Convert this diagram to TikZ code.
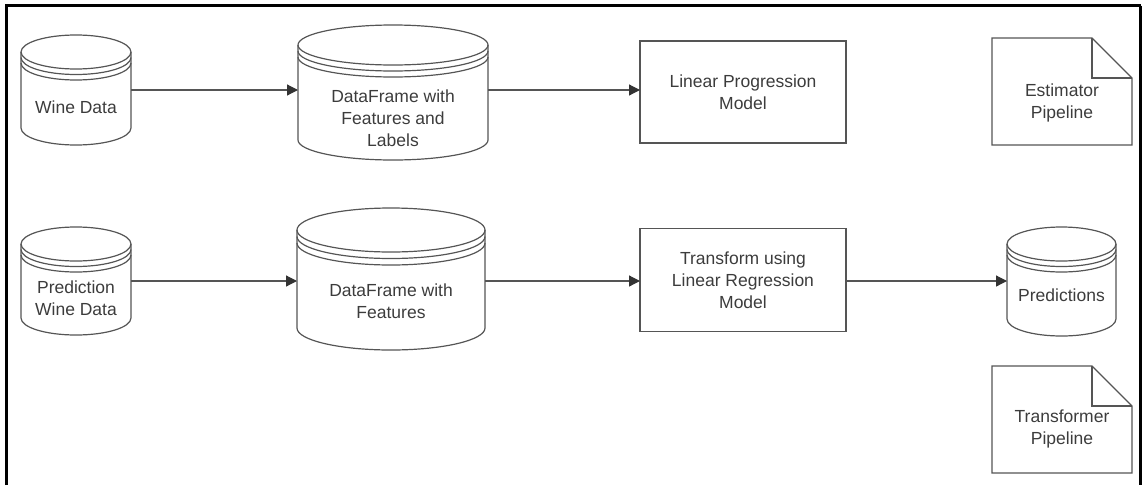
\documentclass[tikz,border=0pt]{standalone}
\usepackage{fontspec}
\setmainfont{Liberation Sans}
\usetikzlibrary{calc,arrows.meta}
\definecolor{linecol}{HTML}{555555}
\definecolor{tipcol}{HTML}{333333}
\definecolor{txtcol}{HTML}{3C3C3C}
\tikzset{
  shapeline/.style={draw=linecol, line width=1.2pt},
  txt/.style={text=txtcol, font=\fontsize{17.5}{22}\selectfont, align=center, inner sep=0pt},
  holder/.style={inner sep=0pt, outer sep=0pt, draw=none},
  flow/.style={draw=linecol, line width=1.2pt, -{Triangle[length=11pt,width=11pt,color=tipcol]}},
  framestyle/.style={draw=black, line width=3pt}
}
% #1 name, #2 cx, #3 top, #4 width, #5 height, #6 ry, #7 gap, #8 text, #9 text shift
\newcommand{\mycyl}[9]{%
  \node[holder, minimum width=#4pt, minimum height=#5pt] (#1) at (#2, {#3+#5/2}) {};
  \draw[shapeline] ([yshift=-#6pt]#1.north) ellipse [x radius={#4/2*1pt}, y radius=#6pt];
  \draw[shapeline] ([yshift=-#6pt]#1.north west) -- ([yshift=#6pt]#1.south west)
     arc[start angle=180, end angle=360, x radius={#4/2*1pt}, y radius=#6pt]
     -- ([yshift=-#6pt]#1.north east);
  \draw[shapeline] ([yshift={-#6pt-#7pt}]#1.north west)
     arc[start angle=180, end angle=360, x radius={#4/2*1pt}, y radius=#6pt];
  \draw[shapeline] ([yshift={-#6pt-2*#7pt}]#1.north west)
     arc[start angle=180, end angle=360, x radius={#4/2*1pt}, y radius=#6pt];
  \node[txt] (#1-t) at ($([yshift={-2*#6pt-#9pt}]#1.north)!0.5!([yshift=-#9pt]#1.south)$) {#8};
}
% #1 name, #2 left, #3 top, #4 width, #5 height, #6 fold, #7 text, #8 text offset
\newcommand{\mydoc}[8]{%
  \node[holder, minimum width=#4pt, minimum height=#5pt] (#1) at ({#2+#4/2}, {#3+#5/2}) {};
  \draw[shapeline] (#1.north west) -- ([xshift=-#6pt]#1.north east) -- ([yshift=-#6pt]#1.north east)
     -- (#1.south east) -- (#1.south west) -- cycle;
  \draw[shapeline] ([xshift=-#6pt]#1.north east) -- ([xshift=-#6pt,yshift=-#6pt]#1.north east)
     -- ([yshift=-#6pt]#1.north east);
  \node[txt] (#1-t) at ([yshift=-#8pt]#1.center) {#7};
}
\begin{document}
\begin{tikzpicture}[x=1pt, y=-1pt]
\useasboundingbox (0,0) rectangle (1145,485);
% frame
\draw[framestyle] (6.5,485) -- (6.5,5.5) -- (1140.5,5.5);
\draw[draw=black, line width=2.2pt] (1140.5,5.5) -- (1140.5,485);

% row 1
\mycyl{wine}{76}{35}{110}{110}{17}{5.5}{Wine Data}{0}
\mycyl{df1}{393}{25}{190}{135}{20}{6}{DataFrame with\\Features and\\Labels}{6}
\node[shapeline, holder, draw=linecol, minimum width=206pt, minimum height=102pt, txt] (lin) at (743,92) {Linear Progression\\Model};
\mydoc{est}{992}{38}{140}{107}{40}{Estimator\\Pipeline}{11}

% row 2
\mycyl{pwine}{76}{227}{110}{108}{17}{5.5}{Prediction\\Wine Data}{0}
\mycyl{df2}{391}{208}{188}{142}{22}{6.5}{DataFrame with\\Features}{0}
\node[shapeline, holder, draw=linecol, minimum width=206pt, minimum height=103pt, txt] (trans) at (743,280) {Transform using\\Linear Regression\\Model};
\mycyl{pred}{1061.5}{227}{109}{109}{17}{5.5}{Predictions}{-3}
\mydoc{tpipe}{992}{366}{140}{107}{40}{Transformer\\Pipeline}{9}

% connectors
\draw[flow] (wine.east) -- (df1.west |- wine.east);
\draw[flow] (df1.east |- wine.east) -- (lin.west |- wine.east);
\draw[flow] (pwine.east) -- (df2.west |- pwine.east);
\draw[flow] (df2.east |- pwine.east) -- (trans.west |- pwine.east);
\draw[flow] (trans.east |- pwine.east) -- (pred.west |- pwine.east);
\end{tikzpicture}
\end{document}
